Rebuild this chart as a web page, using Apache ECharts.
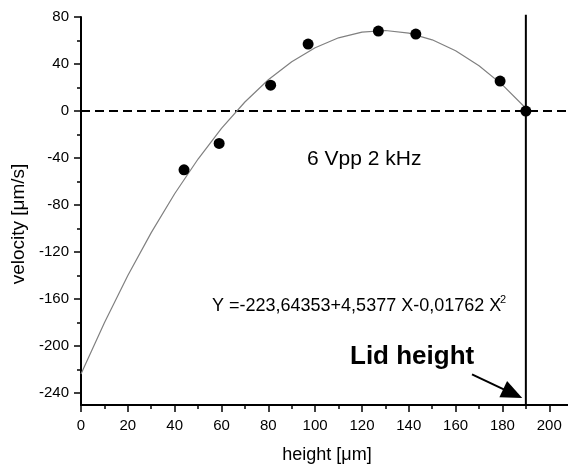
<!DOCTYPE html>
<html>
<head>
<meta charset="utf-8">
<script src="https://cdn.jsdelivr.net/npm/echarts@6/dist/echarts.min.js"></script>
<style>
  html, body { margin: 0; padding: 0; background: #fff; }
  #chart { width: 568px; height: 465px; }
</style>
</head>
<body>
<div id="chart"></div>
<script>
// measured points
const heightPts = [44, 59, 81, 97, 127, 143, 179, 190];
const velocityPts = [-50, -27.5, 22, 57, 68, 65.5, 25.5, 0];

// fitted curve, every 10 um
const fitHeight = [0, 10, 20, 30, 40, 50, 60, 70, 80, 90, 100, 110, 120, 130, 140, 150, 160, 170, 180, 190];
const fitVelocity = [-223.6, -180, -139.9, -103.4, -70.3, -40.8, -14.8, 7.7, 26.6, 42, 53.9, 62.3, 67.2, 68.5, 66.3, 60.6, 51.3, 38.6, 22.3, 2.4];

// axis ticks
const xMajor = [0, 20, 40, 60, 80, 100, 120, 140, 160, 180, 200];
const xMinor = [10, 30, 50, 70, 90, 110, 130, 150, 170, 190];
const yMajor = [-240, -200, -160, -120, -80, -40, 0, 40, 80];
const yMinor = [-220, -180, -140, -100, -60, -20, 20, 60];

// lid position and arrow
const lidHeight = 190;
const lidTop = 82;
const arrowFrom = [167, -224];
const arrowTo = [184.4, -240.3];

const FONT = 'Liberation Sans, Arial, sans-serif';

const chart = echarts.init(document.getElementById('chart'));

const axisBase = {
  type: 'value',
  axisLine: { onZero: false, lineStyle: { color: '#000', width: 2 } },
  splitLine: { show: false }
};

chart.setOption({
  animation: false,
  grid: { left: 81, right: 0, top: 17, bottom: 60, containLabel: false, outerBoundsMode: 'none' },
  xAxis: [
    {
      ...axisBase, min: 0, max: 208, position: 'bottom',
      axisTick: { show: true, inside: false, length: 7, customValues: xMajor, lineStyle: { color: '#000', width: 1.5 } },
      axisLabel: { customValues: xMajor, margin: 13, color: '#000', fontSize: 15, fontFamily: FONT }
    },
    {
      ...axisBase, min: 0, max: 208, position: 'bottom',
      axisLine: { show: false, onZero: false },
      axisTick: { show: true, length: 4, customValues: xMinor, lineStyle: { color: '#000', width: 1.5 } },
      axisLabel: { show: false }
    }
  ],
  yAxis: [
    {
      ...axisBase, min: -250, max: 80, position: 'left',
      axisTick: { show: true, inside: false, length: 7, customValues: yMajor, lineStyle: { color: '#000', width: 1.5 } },
      axisLabel: { customValues: yMajor, margin: 12, color: '#000', fontSize: 15, fontFamily: FONT }
    },
    {
      ...axisBase, min: -250, max: 80, position: 'left',
      axisLine: { show: false, onZero: false },
      axisTick: { show: true, length: 4, customValues: yMinor, lineStyle: { color: '#000', width: 1.5 } },
      axisLabel: { show: false }
    }
  ],
  series: [
    {
      name: 'zero',
      type: 'line',
      data: [[0, 0], [208, 0]],
      symbol: 'none',
      lineStyle: { color: '#000', width: 2, type: [9, 5] },
      z: 1
    },
    {
      name: 'fit',
      type: 'line',
      data: fitHeight.map((h, i) => [h, fitVelocity[i]]),
      symbol: 'none',
      lineStyle: { color: '#808080', width: 1.2 },
      z: 2
    },
    {
      name: 'lid',
      type: 'line',
      data: [[lidHeight, -250], [lidHeight, lidTop]],
      symbol: 'none',
      clip: false,
      lineStyle: { color: '#000', width: 2 },
      z: 3,
      markLine: {
        silent: true,
        symbol: ['none', 'triangle'],
        symbolSize: [18, 21],
        label: { show: false },
        lineStyle: { color: '#000', width: 2, type: 'solid' },
        data: [[{ coord: arrowFrom }, { coord: arrowTo }]]
      }
    },
    {
      name: 'data',
      type: 'scatter',
      data: heightPts.map((h, i) => [h, velocityPts[i]]),
      symbol: 'circle',
      symbolSize: 11,
      itemStyle: { color: '#000', opacity: 1 },
      z: 4
    }
  ],
  graphic: [
    {
      type: 'text', x: 307, y: 159.5,
      style: { text: '6 Vpp 2 kHz', fontSize: 21, fontFamily: FONT, fill: '#000', align: 'left', verticalAlign: 'middle' }
    },
    {
      type: 'text', x: 212, y: 305.8,
      style: { text: 'Y =-223,64353+4,5377 X-0,01762 X', fontSize: 18, fontFamily: FONT, fill: '#000', align: 'left', verticalAlign: 'middle' }
    },
    {
      type: 'text', x: 500, y: 300,
      style: { text: '2', fontSize: 11, fontFamily: FONT, fill: '#000', align: 'left', verticalAlign: 'middle' }
    },
    {
      type: 'text', x: 350, y: 356.5,
      style: { text: 'Lid height', fontSize: 26, fontWeight: 'bold', fontFamily: FONT, fill: '#000', align: 'left', verticalAlign: 'middle' }
    },
    {
      type: 'text', x: 327, y: 455,
      style: { text: 'height [μm]', fontSize: 18, fontFamily: FONT, fill: '#000', align: 'center', verticalAlign: 'middle' }
    },
    {
      type: 'text', x: 19, y: 224, rotation: Math.PI / 2,
      style: { text: 'velocity [μm/s]', fontSize: 19, fontFamily: FONT, fill: '#000', align: 'center', verticalAlign: 'middle' }
    }
  ]
});
</script>
</body>
</html>
